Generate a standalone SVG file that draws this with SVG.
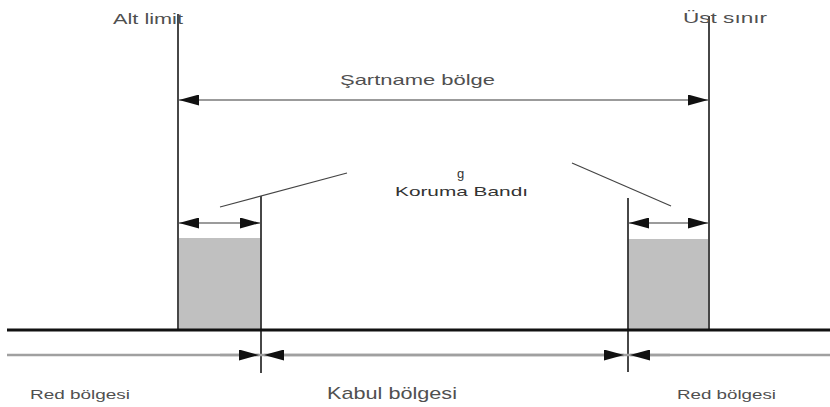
<svg xmlns="http://www.w3.org/2000/svg" width="830" height="407" viewBox="0 0 830 407">
  <style>
    .t { font-family: "Liberation Sans", Arial, sans-serif; fill: #505050; }
    .dk { fill: #333; }
    .v { stroke: #333; stroke-width: 1.8; fill: none; }
    .dim { stroke: #7a7a7a; stroke-width: 1.5; fill: none; }
    .low { stroke: #a0a0a0; stroke-width: 2.5; fill: none; }
    .lead { stroke: #444; stroke-width: 1.2; fill: none; }
    .zone { fill: #c0c0c0; stroke: none; }
  </style>
  <defs>
    <marker id="arr" markerUnits="userSpaceOnUse" markerWidth="20" markerHeight="11" viewBox="0 0 20 11" refX="20" refY="5.5" orient="auto-start-reverse">
      <path d="M0,0 L20,5.5 L0,11 Z" fill="#111"/>
    </marker>
  </defs>

  <rect width="830" height="407" fill="#fff"/>

  <g id="guard-zones">
    <rect class="zone" x="179" y="238" width="82" height="91"/>
    <rect class="zone" x="628" y="239" width="80" height="90"/>
  </g>

  <g id="connectors">
    <line class="v" x1="178" y1="14" x2="178" y2="329"/>
    <line class="v" x1="709" y1="16" x2="709" y2="329"/>
    <line class="v" x1="261" y1="196" x2="261" y2="373"/>
    <line class="v" x1="628" y1="198" x2="628" y2="372"/>
    <line x1="7" y1="330" x2="830" y2="330" stroke="#111" stroke-width="3"/>
    <line class="low" x1="7" y1="355" x2="830" y2="355"/>
    <line class="dim" x1="179" y1="100" x2="708" y2="100" marker-start="url(#arr)" marker-end="url(#arr)"/>
    <line class="dim" x1="179" y1="223" x2="260" y2="223" marker-start="url(#arr)" marker-end="url(#arr)"/>
    <line class="dim" x1="629" y1="223" x2="708" y2="223" marker-start="url(#arr)" marker-end="url(#arr)"/>
    <line class="lead" x1="220" y1="207" x2="347" y2="173"/>
    <line class="lead" x1="572" y1="163" x2="671" y2="206"/>
    <line class="low" x1="220" y1="355" x2="259" y2="355" marker-end="url(#arr)"/>
    <line class="low" x1="264" y1="355" x2="624" y2="355" marker-start="url(#arr)" marker-end="url(#arr)"/>
    <line class="low" x1="630" y1="355" x2="670" y2="355" marker-start="url(#arr)"/>
  </g>

  <g id="alt-limit">
    <text class="t" x="113" y="24" font-size="15" textLength="70" lengthAdjust="spacingAndGlyphs">Alt limit</text>
  </g>
  <g id="ust-sinir">
    <text class="t" x="683" y="23" font-size="15" textLength="84" lengthAdjust="spacingAndGlyphs">Üst sınır</text>
  </g>
  <g id="sartname">
    <text class="t" x="340" y="85" font-size="15" textLength="155" lengthAdjust="spacingAndGlyphs">Şartname bölge</text>
  </g>
  <g id="koruma">
    <text class="t dk" x="457" y="178" font-size="13">g</text>
    <text class="t dk" x="395" y="196" font-size="13" textLength="133" lengthAdjust="spacingAndGlyphs">Koruma Bandı</text>
  </g>
  <g id="red-left">
    <text class="t" x="30" y="399" font-size="13" textLength="100" lengthAdjust="spacingAndGlyphs">Red bölgesi</text>
  </g>
  <g id="kabul">
    <text class="t" x="327" y="399" font-size="17" textLength="130" lengthAdjust="spacingAndGlyphs">Kabul bölgesi</text>
  </g>
  <g id="red-right">
    <text class="t" x="677" y="399" font-size="13" textLength="99" lengthAdjust="spacingAndGlyphs">Red bölgesi</text>
  </g>
</svg>
